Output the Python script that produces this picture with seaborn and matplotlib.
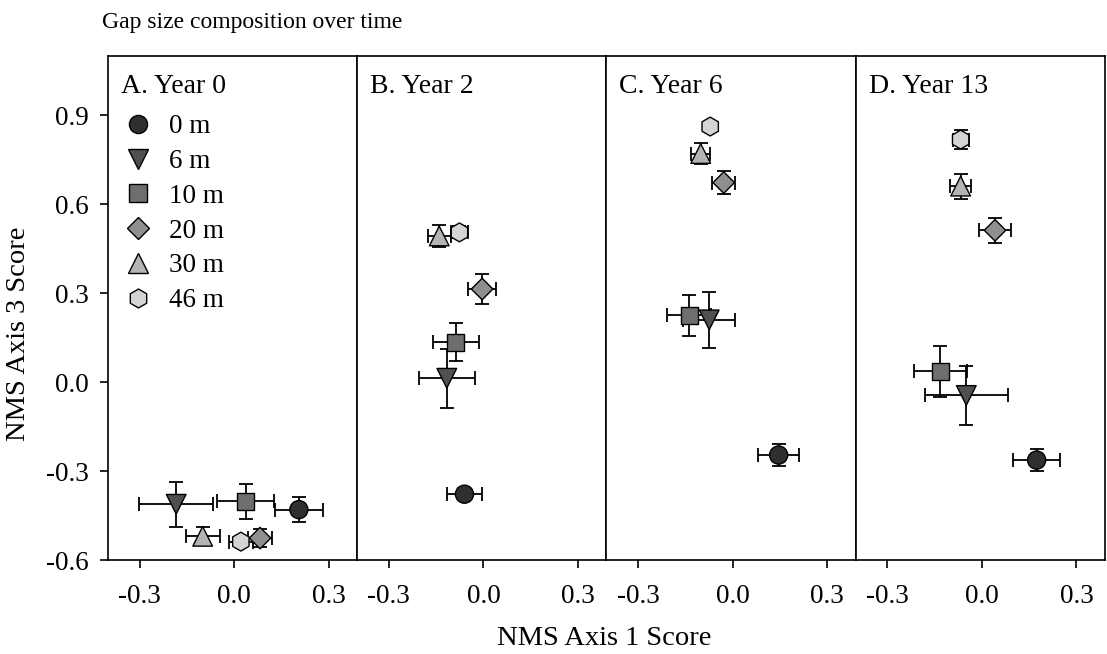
import numpy as np
import pandas as pd
import matplotlib
matplotlib.use("Agg")
import matplotlib.pyplot as plt
import seaborn as sns
from matplotlib.lines import Line2D

# -----------------------------
# Data (NMS scores, mean +/- SE)
# -----------------------------
gap_sizes = ["0 m", "6 m", "10 m", "20 m", "30 m", "46 m"]
panel_titles = ["A. Year 0", "B. Year 2", "C. Year 6", "D. Year 13"]

axis1_y0 = [0.205, -0.184, 0.037, 0.082, -0.100, 0.021]
axis1_y2 = [-0.060, -0.116, -0.087, -0.004, -0.140, -0.076]
axis1_y6 = [0.146, -0.074, -0.137, -0.028, -0.101, -0.071]
axis1_y13 = [0.174, -0.049, -0.131, 0.042, -0.067, -0.067]

axis3_y0 = [-0.430, -0.412, -0.402, -0.526, -0.520, -0.538]
axis3_y2 = [-0.378, 0.013, 0.134, 0.314, 0.493, 0.505]
axis3_y6 = [-0.246, 0.210, 0.225, 0.673, 0.771, 0.862]
axis3_y13 = [-0.263, -0.045, 0.036, 0.512, 0.661, 0.818]

xerr_y0 = [0.075, 0.118, 0.090, 0.038, 0.054, 0.037]
xerr_y2 = [0.055, 0.089, 0.073, 0.044, 0.037, 0.028]
xerr_y6 = [0.065, 0.082, 0.070, 0.037, 0.030, 0.012]
xerr_y13 = [0.075, 0.132, 0.083, 0.050, 0.034, 0.025]

yerr_y0 = [0.043, 0.076, 0.060, 0.030, 0.030, 0.015]
yerr_y2 = [0.020, 0.100, 0.064, 0.050, 0.036, 0.020]
yerr_y6 = [0.036, 0.095, 0.070, 0.038, 0.034, 0.012]
yerr_y13 = [0.038, 0.100, 0.087, 0.043, 0.042, 0.032]

x_ticks = [-0.3, 0.0, 0.3]
y_ticks = [-0.6, -0.3, 0.0, 0.3, 0.6, 0.9]

# -----------------------------
# Styling
# -----------------------------
sns.set_style("ticks")
plt.rcParams["font.family"] = ["Liberation Serif", "DejaVu Serif"]
plt.rcParams["axes.unicode_minus"] = False
plt.rcParams["text.color"] = "black"
plt.rcParams["xtick.color"] = "black"
plt.rcParams["ytick.color"] = "black"
plt.rcParams["axes.labelcolor"] = "black"

fills = {"0 m": "#2f2f2f", "6 m": "#505050", "10 m": "#6e6e6e",
         "20 m": "#8f8f8f", "30 m": "#b4b4b4", "46 m": "#d4d4d4"}
markers = {"0 m": "o", "6 m": "v", "10 m": "s",
           "20 m": "D", "30 m": "^", "46 m": "h"}
marker_area = {"0 m": 170, "6 m": 200, "10 m": 150,
               "20 m": 120, "30 m": 200, "46 m": 185}

panels = [
    (axis1_y0, axis3_y0, xerr_y0, yerr_y0),
    (axis1_y2, axis3_y2, xerr_y2, yerr_y2),
    (axis1_y6, axis3_y6, xerr_y6, yerr_y6),
    (axis1_y13, axis3_y13, xerr_y13, yerr_y13),
]

fig, axes = plt.subplots(1, 4, figsize=(11.07, 6.54), dpi=100, sharey=True)
fig.subplots_adjust(left=0.0976, right=0.998, top=0.9144, bottom=0.1437, wspace=0)

for ax, title, (xs, ys, xe, ye) in zip(axes, panel_titles, panels):
    df = pd.DataFrame({"axis1": xs, "axis3": ys, "xerr": xe, "yerr": ye,
                       "gap": gap_sizes})

    # error bars first so markers sit on top
    ax.errorbar(df["axis1"], df["axis3"], xerr=df["xerr"], yerr=df["yerr"],
                fmt="none", ecolor="black", elinewidth=1.3, capsize=5,
                capthick=1.3, zorder=1)

    sns.scatterplot(data=df, x="axis1", y="axis3", hue="gap", style="gap",
                    size="gap", palette=fills, markers=markers,
                    sizes=marker_area, hue_order=gap_sizes,
                    style_order=gap_sizes, size_order=gap_sizes,
                    edgecolor="black", linewidth=1.0, legend=False,
                    ax=ax, zorder=3)

    ax.set_xlim(-0.40, 0.39)
    ax.set_ylim(-0.6, 1.1)
    ax.set_xticks(x_ticks)
    ax.set_xticklabels([f"{t:.1f}" for t in x_ticks])
    ax.set_xlabel("")
    ax.set_ylabel("")
    ax.text(0.052, 0.94, title, transform=ax.transAxes, fontsize=20,
            va="center", ha="left", color="black")
    for side in ["top", "right", "bottom", "left"]:
        ax.spines[side].set_visible(True)
        ax.spines[side].set_linewidth(1.2)
        ax.spines[side].set_color("black")
    ax.tick_params(axis="x", direction="out", length=6, width=1.2,
                   labelsize=19.5, pad=11, colors="black")
    ax.tick_params(axis="y", direction="out", length=6, width=1.2,
                   labelsize=19.5, pad=8, colors="black")

axes[0].set_yticks(y_ticks)
axes[0].set_yticklabels([f"{t:.1f}" for t in y_ticks])
for ax in axes[1:]:
    ax.tick_params(axis="y", left=False, labelleft=False)

# legend inside panel A
handles = [Line2D([], [], linestyle="none", marker=markers[g],
                  markersize=np.sqrt(marker_area[g]), markerfacecolor=fills[g],
                  markeredgecolor="black", markeredgewidth=1.0)
           for g in gap_sizes]
leg = axes[0].legend(handles, gap_sizes, loc="upper left",
                     bbox_to_anchor=(0.06, 0.884), frameon=False, fontsize=19.5,
                     borderpad=0, borderaxespad=0, handlelength=1.1,
                     handletextpad=0.6, labelspacing=0.36)
for t in leg.get_texts():
    t.set_color("black")

fig.text(0.092, 0.966, "Gap size composition over time", fontsize=17,
         ha="left", va="center", color="black")
fig.text(0.546, 0.024, "NMS Axis 1 Score", fontsize=20.5, ha="center",
         va="center", color="black")
fig.text(0.017, 0.49, "NMS Axis 3 Score", fontsize=20.5, ha="center",
         va="center", rotation=90, color="black")

fig.savefig("out.png", dpi=100)
